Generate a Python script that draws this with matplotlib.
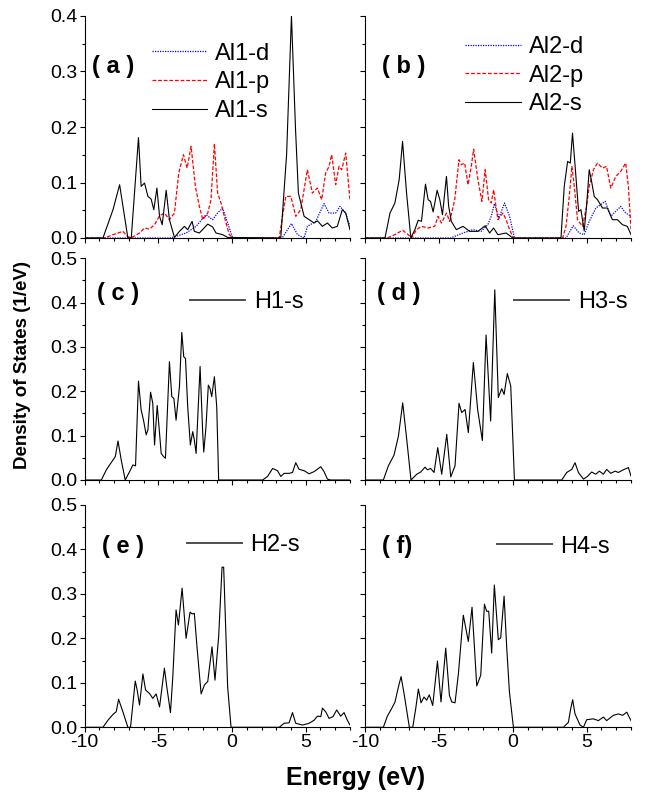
import matplotlib
matplotlib.use('Agg')
import matplotlib.pyplot as plt
from matplotlib.lines import Line2D
from matplotlib.ticker import MultipleLocator, FormatStrFormatter

plt.rcParams['font.family'] = ['Liberation Sans', 'DejaVu Sans']
plt.rcParams['axes.unicode_minus'] = False

al1_s = [(-10, 0), (-8.76, 0), (-8.08, 0.051), (-7.63, 0.096), (-7.07, 0), (-6.84, 0),
         (-6.35, 0.181), (-6.17, 0.093), (-5.94, 0.099), (-5.71, 0.075), (-5.49, 0.07),
         (-5.31, 0.051), (-5.1, 0.09), (-4.92, 0.039), (-4.74, 0.024), (-4.47, 0.086),
         (-4.25, 0.033), (-3.91, 0.001), (-3.57, 0.012), (-3.23, 0.021), (-3.01, 0.015),
         (-2.71, 0.03), (-2.56, 0.012), (-2.22, 0.009), (-1.65, 0.025), (-1.32, 0.02),
         (-1.09, 0.009), (-0.64, 0.006), (-0.3, 0.001), (3.2, 0), (3.31, 0.002),
         (3.7, 0.15), (4.03, 0.4), (4.3, 0.2), (4.5, 0.081), (4.89, 0.039), (5.23, 0.033),
         (5.57, 0.027), (5.79, 0.031), (6.13, 0.021), (6.47, 0.027), (6.8, 0.018),
         (7.14, 0.021), (7.48, 0.051), (7.71, 0.045), (8.0, 0.015)]
al1_p = [(-10, 0), (-8.65, 0), (-8.08, 0.006), (-7.41, 0.012), (-7.07, 0.002), (-6.73, 0.002),
         (-6.28, 0.009), (-5.94, 0.018), (-5.6, 0.016), (-5.26, 0.024), (-4.92, 0.04),
         (-4.59, 0.045), (-4.25, 0.033), (-3.91, 0.045), (-3.62, 0.117), (-3.3, 0.15),
         (-3.05, 0.126), (-2.78, 0.165), (-2.49, 0.093), (-2.22, 0.057), (-1.99, 0.033),
         (-1.65, 0.045), (-1.43, 0.069), (-1.2, 0.17), (-0.98, 0.081), (-0.75, 0.063),
         (-0.53, 0.039), (-0.19, 0.006), (0.1, 0), (3.2, 0), (3.42, 0.039), (3.65, 0.075),
         (3.99, 0.075), (4.32, 0.039), (4.66, 0.051), (5.11, 0.123), (5.45, 0.081),
         (5.79, 0.09), (6.08, 0.069), (6.35, 0.117), (6.58, 0.129), (6.76, 0.15),
         (7.03, 0.096), (7.26, 0.129), (7.44, 0.123), (7.71, 0.153), (8.0, 0.069)]
al1_d = [(-10, 0), (-4.2, 0), (-3.8, 0.003), (-3.12, 0.009), (-2.44, 0.021), (-1.77, 0.042),
         (-1.32, 0.033), (-0.98, 0.045), (-0.64, 0.054), (-0.3, 0.027), (0.04, 0),
         (3.4, 0), (4.03, 0.026), (4.44, 0.006), (4.89, 0.0), (5.11, 0.021), (5.68, 0.03),
         (6.24, 0.062), (6.58, 0.045), (7.03, 0.045), (7.32, 0.057), (7.71, 0.045),
         (8.0, 0.021)]

al2_s = [(-10, 0), (-8.65, 0), (-8.31, 0.045), (-7.98, 0.063), (-7.69, 0.105), (-7.46, 0.174),
         (-7.19, 0.081), (-6.9, 0), (-6.63, 0.015), (-6.4, 0.032), (-6.18, 0.03),
         (-5.91, 0.097), (-5.73, 0.069), (-5.57, 0.066), (-5.39, 0.047), (-5.12, 0.086),
         (-4.94, 0.069), (-4.76, 0.042), (-4.49, 0.111), (-4.34, 0.057), (-4.16, 0.03),
         (-3.82, 0.015), (-3.37, 0.021), (-2.92, 0.012), (-2.36, 0.012), (-1.87, 0.022),
         (-1.57, 0.009), (-1.3, 0.018), (-1.01, 0.006), (-0.45, 0.009), (0.0, 0),
         (3.26, 0), (3.48, 0.093), (3.71, 0.138), (3.89, 0.135), (4.04, 0.189),
         (4.27, 0.111), (4.45, 0.048), (4.61, 0.051), (4.83, 0.013), (4.99, 0.057),
         (5.17, 0.123), (5.35, 0.099), (5.51, 0.075), (5.73, 0.069), (6.07, 0.054),
         (6.4, 0.054), (6.74, 0.033), (7.08, 0.033), (7.42, 0.024), (7.75, 0.021),
         (8.0, 0.006)]
al2_p = [(-10, 0), (-8.5, 0), (-7.98, 0.006), (-7.46, 0.014), (-7.08, 0.006), (-6.85, 0),
         (-6.52, 0.015), (-6.18, 0.021), (-5.73, 0.018), (-5.28, 0.021), (-5.06, 0.039),
         (-4.83, 0.027), (-4.49, 0.045), (-4.27, 0.03), (-3.93, 0.069), (-3.64, 0.141),
         (-3.48, 0.132), (-3.26, 0.135), (-3.03, 0.096), (-2.81, 0.129), (-2.65, 0.16),
         (-2.36, 0.105), (-2.09, 0.066), (-1.87, 0.123), (-1.64, 0.069), (-1.46, 0.063),
         (-1.3, 0.087), (-1.01, 0.033), (-0.67, 0.045), (-0.45, 0.033), (-0.22, 0.015),
         (0.04, 0), (3.37, 0), (3.6, 0.021), (3.82, 0.075), (4.0, 0.129), (4.16, 0.093),
         (4.38, 0.033), (4.72, 0.021), (4.99, 0.057), (5.17, 0.093), (5.46, 0.123),
         (5.73, 0.135), (6.07, 0.126), (6.34, 0.129), (6.63, 0.09), (6.97, 0.111),
         (7.3, 0.12), (7.64, 0.135), (7.82, 0.093), (8.0, 0.015)]
al2_d = [(-10, 0), (-4.2, 0), (-3.37, 0.009), (-2.7, 0.015), (-2.14, 0.012), (-1.69, 0.024),
         (-1.46, 0.039), (-1.24, 0.062), (-0.94, 0.036), (-0.56, 0.063), (-0.22, 0.039),
         (0.11, 0), (3.6, 0), (4.09, 0.022), (4.49, 0.009), (4.83, 0.006), (5.17, 0.03),
         (5.62, 0.054), (6.25, 0.066), (6.63, 0.039), (7.3, 0.057), (7.64, 0.045),
         (8.0, 0.039)]

h1_s = [(-10, 0), (-8.87, 0), (-8.53, 0.023), (-8.31, 0.034), (-8.08, 0.045), (-7.92, 0.053),
        (-7.74, 0.088), (-7.52, 0.045), (-7.25, 0), (-6.95, 0.019), (-6.73, 0.034),
        (-6.55, 0.032), (-6.35, 0.223), (-6.17, 0.158), (-6.01, 0.135), (-5.83, 0.102),
        (-5.71, 0.113), (-5.53, 0.198), (-5.38, 0.173), (-5.26, 0.079), (-5.08, 0.168),
        (-4.92, 0.105), (-4.81, 0.06), (-4.65, 0.053), (-4.52, 0.049), (-4.25, 0.267),
        (-4.09, 0.188), (-3.95, 0.184), (-3.8, 0.135), (-3.57, 0.211), (-3.41, 0.333),
        (-3.28, 0.278), (-3.16, 0.274), (-3.01, 0.165), (-2.83, 0.079), (-2.67, 0.109),
        (-2.56, 0.09), (-2.44, 0.06), (-2.17, 0.256), (-1.99, 0.105), (-1.92, 0.063),
        (-1.77, 0.12), (-1.61, 0.214), (-1.5, 0.207), (-1.38, 0.188), (-1.2, 0.233),
        (-1.04, 0.165), (-0.91, 0), (2.07, 0), (2.41, 0.008), (2.75, 0.026), (3.08, 0.021),
        (3.31, 0.008), (3.53, 0.015), (3.87, 0.015), (4.1, 0.017), (4.32, 0.039),
        (4.55, 0.024), (4.89, 0.021), (5.23, 0.014), (5.57, 0.019), (6.02, 0.03),
        (6.24, 0.019), (6.47, 0.002), (6.69, 0), (8.0, 0)]
h3_s = [(-10, 0), (-8.76, 0), (-8.42, 0.032), (-8.04, 0.056), (-7.74, 0.099), (-7.45, 0.174),
        (-7.18, 0.092), (-6.89, 0), (-6.5, 0.013), (-6.23, 0.018), (-5.94, 0.029),
        (-5.78, 0.023), (-5.56, 0.026), (-5.33, 0.017), (-5.08, 0.073), (-4.81, 0.013),
        (-4.47, 0.103), (-4.2, 0.007), (-3.91, 0.032), (-3.64, 0.173), (-3.46, 0.152),
        (-3.23, 0.159), (-3.01, 0.107), (-2.67, 0.265), (-2.38, 0.159), (-2.06, 0.089),
        (-1.81, 0.327), (-1.5, 0.133), (-1.22, 0.429), (-0.98, 0.186), (-0.75, 0.206),
        (-0.59, 0.193), (-0.37, 0.24), (-0.14, 0.212), (0.11, 0), (3.31, 0), (3.65, 0.017),
        (3.99, 0.024), (4.21, 0.039), (4.44, 0.017), (4.78, 0.002), (5.05, 0.008),
        (5.34, 0.018), (5.61, 0.013), (5.86, 0.02), (6.13, 0.013), (6.35, 0.024),
        (6.63, 0.015), (6.92, 0.02), (7.14, 0.017), (7.48, 0.023), (7.82, 0.028),
        (8.0, 0.009)]
h2_s = [(-10, 0), (-8.76, 0), (-8.42, 0.016), (-8.08, 0.029), (-7.86, 0.035), (-7.7, 0.063),
        (-7.41, 0.035), (-7.07, 0), (-6.89, 0), (-6.57, 0.104), (-6.44, 0.084),
        (-6.28, 0.05), (-6.05, 0.12), (-5.87, 0.084), (-5.6, 0.076), (-5.38, 0.065),
        (-5.15, 0.075), (-4.92, 0.046), (-4.59, 0.133), (-4.43, 0.091), (-4.18, 0.033),
        (-4.02, 0.114), (-3.8, 0.264), (-3.64, 0.23), (-3.39, 0.313), (-3.12, 0.2),
        (-2.85, 0.259), (-2.71, 0.255), (-2.56, 0.256), (-2.38, 0.181), (-2.1, 0.075),
        (-1.88, 0.095), (-1.65, 0.103), (-1.36, 0.181), (-1.16, 0.106), (-0.91, 0.204),
        (-0.68, 0.36), (-0.57, 0.36), (-0.3, 0.091), (-0.07, 0), (3.2, 0), (3.53, 0.009),
        (3.87, 0.01), (4.1, 0.033), (4.32, 0.009), (4.78, 0.005), (5.23, 0.009),
        (5.57, 0.016), (5.79, 0.025), (6.02, 0.024), (6.13, 0.043), (6.35, 0.035),
        (6.58, 0.02), (6.85, 0.024), (7.1, 0.039), (7.37, 0.025), (7.6, 0.033),
        (7.82, 0.016), (8.0, 0.005)]
h4_s = [(-10, 0), (-8.76, 0), (-8.49, 0.025), (-8.2, 0.042), (-7.97, 0.057), (-7.74, 0.091),
        (-7.56, 0.114), (-7.36, 0.076), (-7.0, 0), (-6.77, 0), (-6.57, 0.042),
        (-6.39, 0.086), (-6.21, 0.055), (-6.01, 0.068), (-5.83, 0.061), (-5.65, 0.073),
        (-5.42, 0.049), (-5.1, 0.149), (-4.86, 0.057), (-4.54, 0.178), (-4.29, 0.072),
        (-4.13, 0.057), (-3.91, 0.055), (-3.68, 0.121), (-3.35, 0.252), (-3.01, 0.193),
        (-2.76, 0.27), (-2.44, 0.093), (-2.17, 0.117), (-1.92, 0.277), (-1.77, 0.261),
        (-1.63, 0.261), (-1.43, 0.167), (-1.25, 0.32), (-0.98, 0.197), (-0.82, 0.201),
        (-0.59, 0.295), (-0.41, 0.178), (-0.23, 0.08), (0.04, 0), (3.42, 0), (3.76, 0.011),
        (3.92, 0.042), (4.05, 0.062), (4.21, 0.03), (4.55, 0.005), (4.78, 0), (5.0, 0.017),
        (5.45, 0.019), (5.79, 0.015), (6.13, 0.023), (6.35, 0.015), (6.81, 0.027),
        (7.14, 0.03), (7.44, 0.027), (7.71, 0.034), (8.0, 0.015)]

fig = plt.figure(figsize=(6.55, 8), dpi=100)

lefts = [0.1293, 0.5573]
widths = [0.405, 0.4061]
rows = [(0.7025, 0.2775), (0.40, 0.2771), (0.0909, 0.2779)]

axes = {}
for r, (b, h) in enumerate(rows):
    for c in range(2):
        ax = fig.add_axes([lefts[c], b, widths[c], h])
        ax.set_xlim(-10, 8)
        ax.set_ylim(0, 0.4 if r == 0 else 0.5)
        ax.spines['top'].set_visible(False)
        ax.spines['right'].set_visible(False)
        for s in ['left', 'bottom']:
            ax.spines[s].set_linewidth(0.8)
        ax.xaxis.set_major_locator(MultipleLocator(5))
        ax.xaxis.set_minor_locator(MultipleLocator(1))
        ax.yaxis.set_major_locator(MultipleLocator(0.1))
        ax.yaxis.set_minor_locator(MultipleLocator(0.05))
        ax.yaxis.set_major_formatter(FormatStrFormatter('%.1f'))
        ax.tick_params(which='both', direction='out', width=0.8, labelsize=14, pad=1.5)
        ax.tick_params(which='major', length=3.6)
        ax.tick_params(which='minor', length=2)
        ax.tick_params(axis='x', labelbottom=(r == 2))
        ax.tick_params(axis='y', labelleft=(c == 0))
        axes[(r, c)] = ax


def draw(ax, pts, **kw):
    xs = [p[0] for p in pts]
    ys = [p[1] for p in pts]
    return ax.plot(xs, ys, **kw)[0]


dot = dict(color='blue', lw=0.9, ls=(0, (1, 1)))
dash = dict(color='red', lw=0.9, ls=(0, (3, 1.5)))
solid = dict(color='black', lw=0.8)

# top row: Al partial DOS
for c, (d, p, s, name, lx, ly) in enumerate([
        (al1_d, al1_p, al1_s, 'Al1', 0.2525, 0.88),
        (al2_d, al2_p, al2_s, 'Al2', 0.376, 0.91)]):
    ax = axes[(0, c)]
    hd = draw(ax, d, **dot)
    hp = draw(ax, p, **dash)
    hs = draw(ax, s, **solid)
    ax.legend([hd, hp, hs], [name + '-d', name + '-p', name + '-s'],
              loc='upper left', bbox_to_anchor=(lx, ly), frameon=False, fontsize=17,
              handlelength=2.35, handletextpad=0.35, labelspacing=0.28,
              borderpad=0, borderaxespad=0)

# H s-DOS panels
h_panels = [((1, 0), h1_s, 'H1-s', 0.397, 0.804),
            ((1, 1), h3_s, 'H3-s', 0.56, 0.804),
            ((2, 0), h2_s, 'H2-s', 0.3845, 0.82),
            ((2, 1), h4_s, 'H4-s', 0.495, 0.812)]
for key, pts, name, lx, ly in h_panels:
    ax = axes[key]
    draw(ax, pts, **solid)
    handle = Line2D([], [], color='0.3', lw=1.4)
    ax.legend([handle], [name], loc='center left', bbox_to_anchor=(lx, ly),
              frameon=False, fontsize=17, handlelength=2.35, handletextpad=0.35,
              borderpad=0, borderaxespad=0)

panel_tags = [((0, 0), '( a )', 0.026, 0.772), ((0, 1), '( b )', 0.063, 0.772),
              ((1, 0), '( c )', 0.045, 0.842), ((1, 1), '( d )', 0.044, 0.842),
              ((2, 0), '( e )', 0.064, 0.812), ((2, 1), '( f)', 0.063, 0.812)]
for key, tag, tx, ty in panel_tags:
    axes[key].text(tx, ty, tag, transform=axes[key].transAxes, fontsize=17,
                   fontweight='bold', ha='left', va='center')

fig.text(0.035, 0.544, 'Density of States (1/eV)', rotation=90, fontsize=13.5,
         fontweight='bold', ha='center', va='center')
fig.text(0.543, 0.0275, 'Energy (eV)', fontsize=18, fontweight='bold',
         ha='center', va='center')

fig.savefig('out.png', dpi=100)
